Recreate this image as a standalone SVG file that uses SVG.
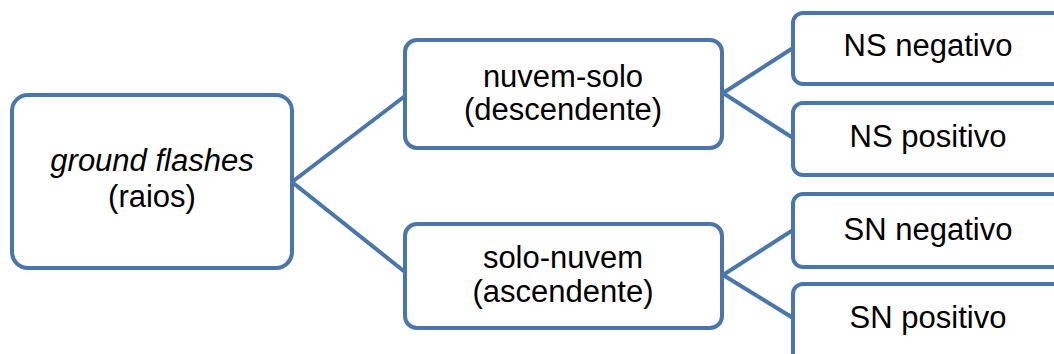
<svg xmlns="http://www.w3.org/2000/svg" width="1054" height="354" viewBox="0 0 1054 354">
<style>
.box{fill:#fff;stroke:#4A76AC;stroke-width:4}
.con{fill:none;stroke:#4A76AC;stroke-width:4}
text{font-family:"Liberation Sans",Arial,sans-serif;font-size:31px;fill:#000;text-anchor:middle}
</style>
<rect width="1054" height="354" fill="#fff"/>
<g id="connectors">
<polyline class="con" points="405,96 292,182 405,272"/>
<polyline class="con" points="793,48 723,93 793,138"/>
<polyline class="con" points="793,230 723,275 793,318"/>
</g>
<g id="root">
<rect class="box" x="12" y="95" width="280" height="173" rx="16"/>
<text x="152" y="171" font-style="italic">ground flashes</text>
<text x="152" y="207">(raios)</text>
</g>
<g id="ns">
<rect class="box" x="405" y="40" width="317" height="108" rx="12"/>
<text x="563" y="87">nuvem-solo</text>
<text x="563" y="120">(descendente)</text>
</g>
<g id="sn">
<rect class="box" x="405" y="224" width="317" height="104" rx="12"/>
<text x="563" y="268">solo-nuvem</text>
<text x="563" y="302">(ascendente)</text>
</g>
<g id="ns-neg">
<rect class="box" x="793" y="13" width="272" height="71" rx="10"/>
<text x="928" y="56">NS negativo</text>
</g>
<g id="ns-pos">
<rect class="box" x="793" y="103" width="272" height="72" rx="10"/>
<text x="928" y="147">NS positivo</text>
</g>
<g id="sn-neg">
<rect class="box" x="793" y="194" width="272" height="73" rx="10"/>
<text x="928" y="240">SN negativo</text>
</g>
<g id="sn-pos">
<rect class="box" x="793" y="284" width="272" height="90" rx="10"/>
<text x="928" y="328">SN positivo</text>
</g>
</svg>
